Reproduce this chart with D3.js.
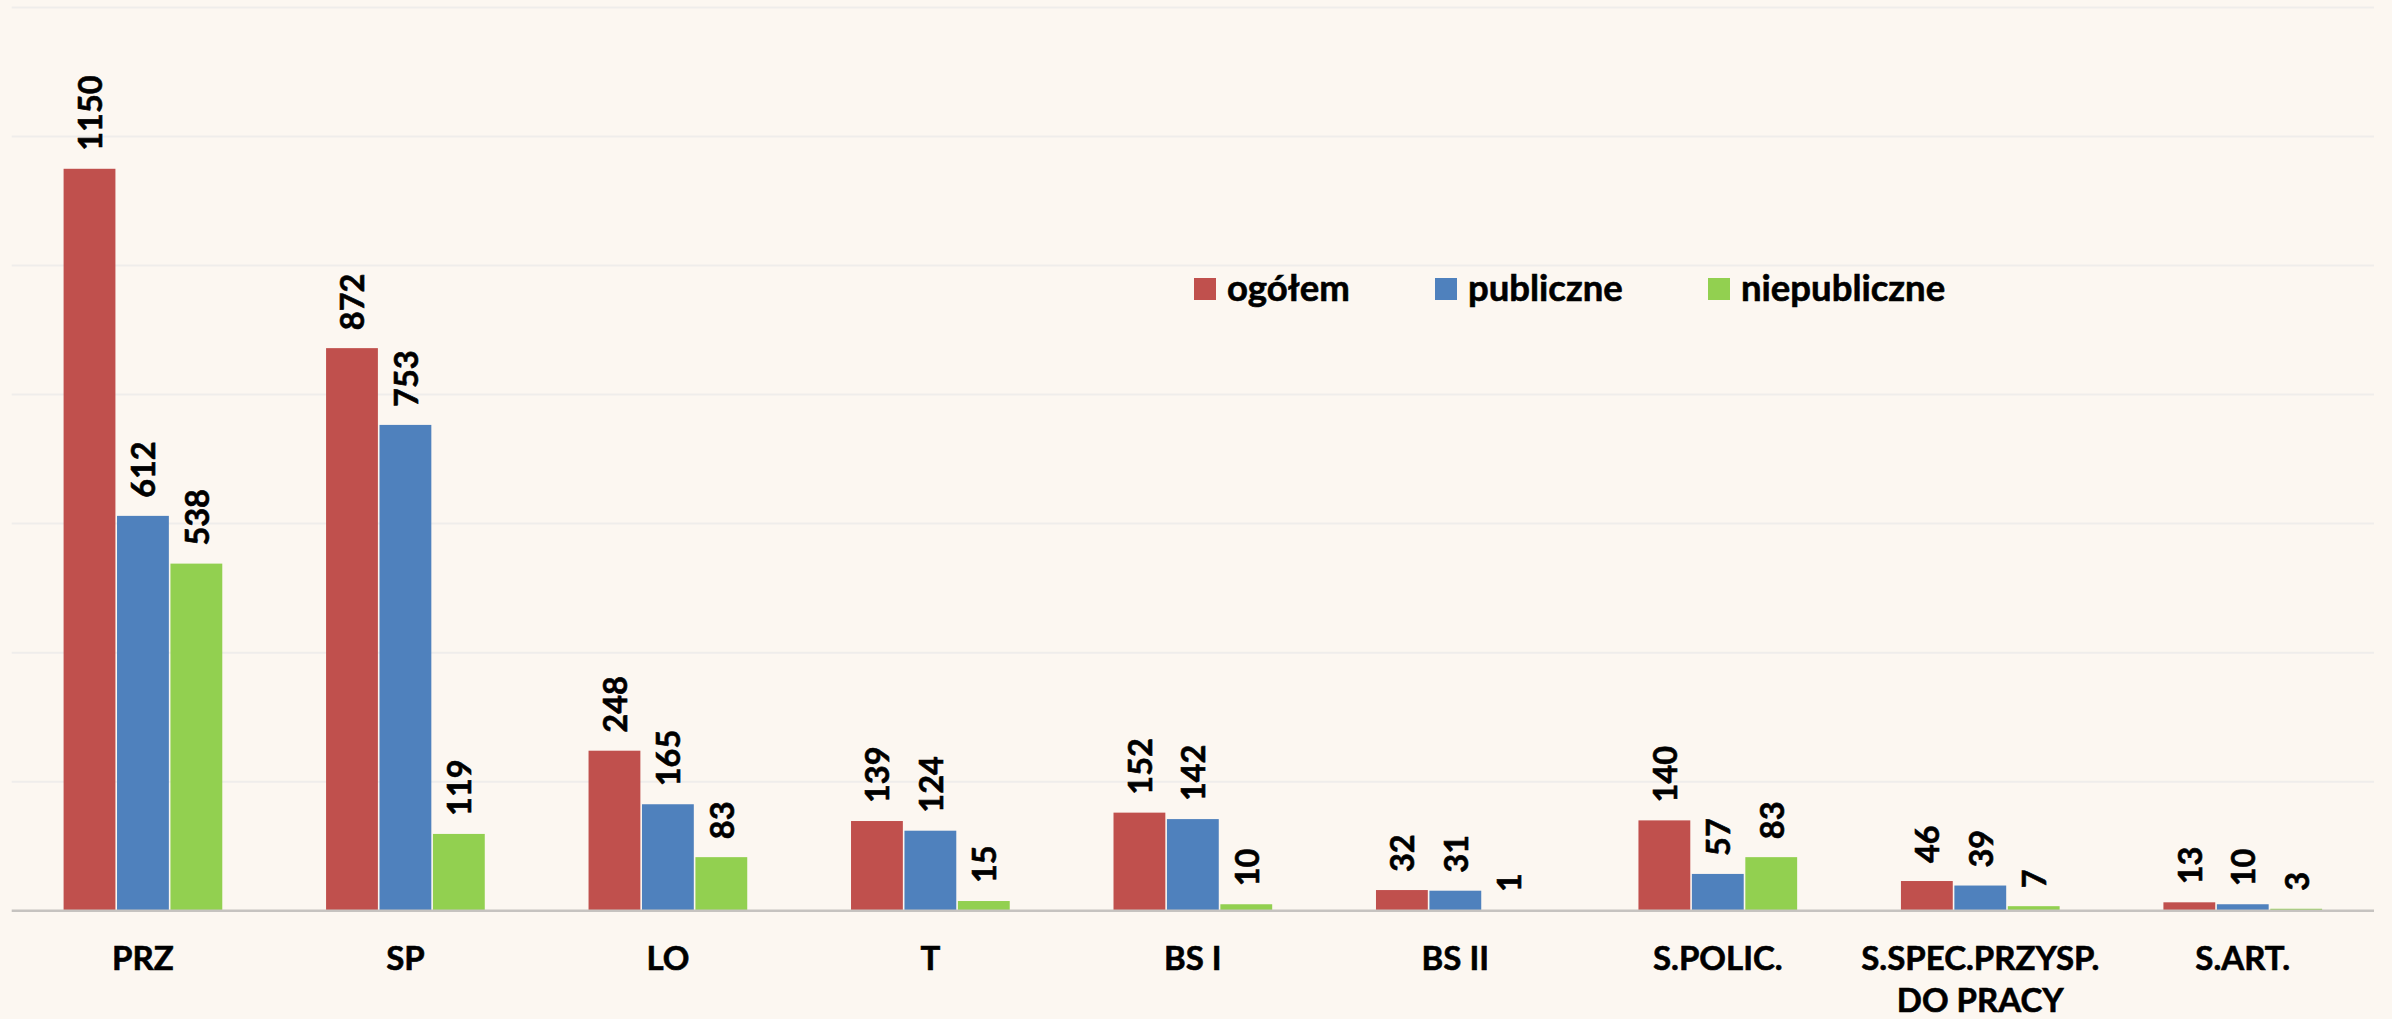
<!DOCTYPE html>
<html lang="pl">
<head>
    <meta charset="UTF-8">
    <title>Placówki wg typu</title>
    <script src="https://d3js.org/d3.v7.min.js"></script>
</head>

<style>
    body{
        margin: 0;
        background: #fcf7f1;
    }
    svg text {
        font-family: Lato, "Open Sans", sans-serif;
        font-weight: 700;
        fill: #000;
    }
</style>
<body>

    <svg id = "chart"></svg>

    <script>
    //Data
        const categories = ["PRZ", "SP", "LO", "T", "BS I", "BS II", "S.POLIC.", "S.SPEC.PRZYSP.\nDO PRACY", "S.ART."];
        const seriesNames = ["ogółem", "publiczne", "niepubliczne"];
        const ogolem      = [1150, 872, 248, 139, 152, 32, 140, 46, 13];
        const publiczne   = [612, 753, 165, 124, 142, 31, 57, 39, 10];
        const niepubliczne = [538, 119, 83, 15, 10, 1, 83, 7, 3];
        const gridTicks = [0, 200, 400, 600, 800, 1000, 1200, 1400];
        const seriesColors = ["#c0504d", "#4f81bd", "#92d050"];

        const width = 2392;
        const height = 1019;

        const plot = {left: 11.7, right: 2374, top: 7.5, bottom: 910.7};

        const svg = d3.select("#chart")
            .attr("width", width)
            .attr("height", height);

        svg.append("rect")
            .attr("width", width)
            .attr("height", height)
            .attr("fill", "#fcf7f1");

    //Scales
        const x0 = d3.scaleBand()
            .domain(categories)
            .range([plot.left, plot.right])
            .paddingInner(0.3954)
            .paddingOuter(0.1977);

        const x1 = d3.scaleBand()
            .domain(seriesNames)
            .range([0, x0.bandwidth()])
            .paddingInner(0.03);

        const y = d3.scaleLinear()
            .domain([0, 1400])
            .range([plot.bottom, plot.top]);

    //Gridlines
        svg.append("g")
            .selectAll("line")
            .data(gridTicks.slice(1))
            .join("line")
            .attr("x1", plot.left)
            .attr("x2", plot.right)
            .attr("y1", d => y(d))
            .attr("y2", d => y(d))
            .attr("stroke", "#efedeb")
            .attr("stroke-width", 2);

    //Bars
        const rows = categories.map((c, i) => ({
            cat: c,
            values: [ogolem[i], publiczne[i], niepubliczne[i]]
        }));

        const groups = svg.append("g")
            .selectAll("g")
            .data(rows)
            .join("g")
            .attr("transform", d => `translate(${x0(d.cat)},0)`);

        groups.selectAll("rect")
            .data(d => d.values.map((v, j) => ({name: seriesNames[j], value: v, j: j})))
            .join("rect")
            .attr("x", d => x1(d.name))
            .attr("width", x1.bandwidth())
            .attr("y", d => y(d.value))
            .attr("height", d => y(0) - y(d.value))
            .attr("fill", d => seriesColors[d.j]);

        groups.selectAll("text")
            .data(d => d.values.map((v, j) => ({name: seriesNames[j], value: v})))
            .join("text")
            .attr("transform", d => `translate(${x1(d.name) + x1.bandwidth()/2},${y(d.value) - 18}) rotate(-90)`)
            .attr("text-anchor", "start")
            .attr("dominant-baseline", "central")
            .attr("font-size", 32.5)
            .attr("stroke", "#000")
            .attr("stroke-width", 0.6)
            .text(d => d.value);

    //X axis
        svg.append("line")
            .attr("x1", plot.left)
            .attr("x2", plot.right)
            .attr("y1", y(0))
            .attr("y2", y(0))
            .attr("stroke", "#c6c3c0")
            .attr("stroke-width", 2.5);

        const xLabels = svg.append("g")
            .selectAll("text")
            .data(categories)
            .join("text")
            .attr("x", d => x0(d) + x0.bandwidth()/2)
            .attr("y", 970)
            .attr("text-anchor", "middle")
            .attr("font-size", 33)
            .attr("stroke", "#000")
            .attr("stroke-width", 0.6);

        xLabels.selectAll("tspan")
            .data(d => d.split("\n"))
            .join("tspan")
            .attr("x", function() { return d3.select(this.parentNode).attr("x"); })
            .attr("dy", (d, i) => i === 0 ? 0 : 42)
            .text(d => d);

    //Legend
        const legendX = [1194, 1435, 1708];
        const legend = svg.append("g")
            .selectAll("g")
            .data(seriesNames)
            .join("g")
            .attr("transform", (d, i) => `translate(${legendX[i]},278)`);

        legend.append("rect")
            .attr("width", 22)
            .attr("height", 22)
            .attr("fill", (d, i) => seriesColors[i]);

        legend.append("text")
            .attr("x", 33)
            .attr("y", 23)
            .attr("font-size", 36.5)
            .attr("stroke", "#000")
            .attr("stroke-width", 0.6)
            .text(d => d);
    </script>
</body>
</html>
